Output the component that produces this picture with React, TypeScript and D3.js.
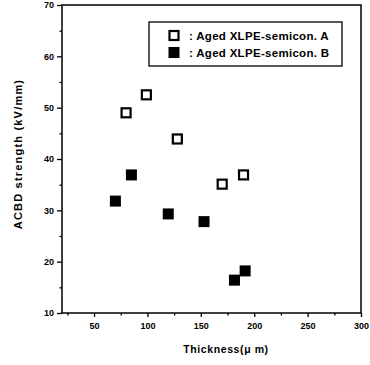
import { useEffect, useRef } from "react";
import * as d3 from "d3";

// Thickness (um) vs ACBD strength (kV/mm)
const seriesAx = [80, 99, 128, 170, 190];
const seriesAy = [49, 52.5, 43.9, 35.1, 36.9];
const seriesBx = [70, 85, 119.5, 153, 181.5, 191.5];
const seriesBy = [31.8, 36.9, 29.3, 27.8, 16.4, 18.2];
const legendLabels = [": Aged XLPE-semicon. A", ": Aged XLPE-semicon. B"];
const xTicks = [50, 100, 150, 200, 250, 300];
const yTicks = [10, 20, 30, 40, 50, 60, 70];

const FONT = "'Liberation Sans', Arial, sans-serif";

export default function App() {
  const svgRef = useRef<SVGSVGElement>(null);

  useEffect(() => {
    if (!svgRef.current) return;
    const svg = d3.select(svgRef.current);
    svg.selectAll("*").remove();

    const margin = { top: 5, right: 9, bottom: 52, left: 62 };
    const W = 370;
    const H = 365;
    const width = W - margin.left - margin.right;
    const height = H - margin.top - margin.bottom;

    const x = d3.scaleLinear().domain([20, 300]).range([0, width]);
    const y = d3.scaleLinear().domain([10, 70]).range([height, 0]);

    const g = svg
      .append("g")
      .attr("transform", `translate(${margin.left},${margin.top})`);

    // frame
    g.append("rect")
      .attr("width", width)
      .attr("height", height)
      .attr("fill", "none")
      .attr("stroke", "#000")
      .attr("stroke-width", 1.5);

    // minor ticks
    const xMinor = d3.range(25, 300, 25).filter((v) => v % 50 !== 0);
    const yMinor = d3.range(15, 70, 10);

    const xAxis = g
      .append("g")
      .attr("transform", `translate(0,${height})`)
      .call(
        d3.axisBottom(x).tickValues(xTicks).tickSize(4).tickPadding(6)
      );
    g.append("g")
      .attr("transform", `translate(0,${height})`)
      .call(
        d3.axisBottom(x).tickValues(xMinor).tickSize(2.5).tickFormat(() => "")
      );

    const yAxis = g
      .append("g")
      .call(d3.axisLeft(y).tickValues(yTicks).tickSize(5).tickPadding(3));
    g.append("g").call(
      d3.axisLeft(y).tickValues(yMinor).tickSize(2.5).tickFormat(() => "")
    );

    g.selectAll(".domain").remove();
    g.selectAll(".tick line").attr("stroke", "#000").attr("stroke-width", 1.3);
    [xAxis, yAxis].forEach((a) =>
      a
        .selectAll("text")
        .attr("fill", "#000")
        .attr("font-family", FONT)
        .attr("font-size", "9px")
        .attr("font-weight", "bold")
    );

    // series B (filled)
    const s = 11;
    g.selectAll("rect.b")
      .data(seriesBx)
      .join("rect")
      .attr("class", "b")
      .attr("x", (d) => x(d) - s / 2)
      .attr("y", (_, i) => y(seriesBy[i]) - s / 2)
      .attr("width", s)
      .attr("height", s)
      .attr("fill", "#000");

    // series A (open)
    const so = 9;
    g.selectAll("rect.a")
      .data(seriesAx)
      .join("rect")
      .attr("class", "a")
      .attr("x", (d) => x(d) - so / 2)
      .attr("y", (_, i) => y(seriesAy[i]) - so / 2)
      .attr("width", so)
      .attr("height", so)
      .attr("fill", "#fff")
      .attr("stroke", "#000")
      .attr("stroke-width", 2.2);

    // legend
    const lg = svg.append("g").attr("transform", "translate(149,22)");
    lg.append("rect")
      .attr("width", 193)
      .attr("height", 44)
      .attr("fill", "#fff")
      .attr("stroke", "#000")
      .attr("stroke-width", 1.3);
    legendLabels.forEach((label, i) => {
      const cy = 13.5 + i * 17;
      if (i === 0) {
        lg.append("rect")
          .attr("x", 25 - so / 2)
          .attr("y", cy - so / 2)
          .attr("width", so)
          .attr("height", so)
          .attr("fill", "#fff")
          .attr("stroke", "#000")
          .attr("stroke-width", 2.2);
      } else {
        lg.append("rect")
          .attr("x", 25 - s / 2)
          .attr("y", cy - s / 2)
          .attr("width", s)
          .attr("height", s)
          .attr("fill", "#000");
      }
      lg.append("text")
        .attr("x", 40)
        .attr("y", cy + 4)
        .attr("font-family", FONT)
        .attr("font-size", "11.5px")
        .attr("font-weight", "bold")
        .attr("letter-spacing", "0.3px")
        .text(label);
    });

    // axis titles
    svg
      .append("text")
      .attr("transform", `translate(22,154) rotate(-90)`)
      .attr("text-anchor", "middle")
      .attr("font-family", FONT)
      .attr("font-size", "11px")
      .attr("font-weight", "bold")
      .attr("letter-spacing", "1.2px")
      .text("ACBD strength (kV/mm)");
    svg
      .append("text")
      .attr("x", 226)
      .attr("y", 353)
      .attr("text-anchor", "middle")
      .attr("font-family", FONT)
      .attr("font-size", "10.5px")
      .attr("font-weight", "bold")
      .attr("letter-spacing", "0.6px")
      .text("Thickness(\u03bc m)");
  }, []);

  return (
    <div style={{ position: "absolute", left: 0, top: 0 }}>
      <svg ref={svgRef} width={370} height={365} style={{ display: "block", background: "#fff" }} />
    </div>
  );
}
